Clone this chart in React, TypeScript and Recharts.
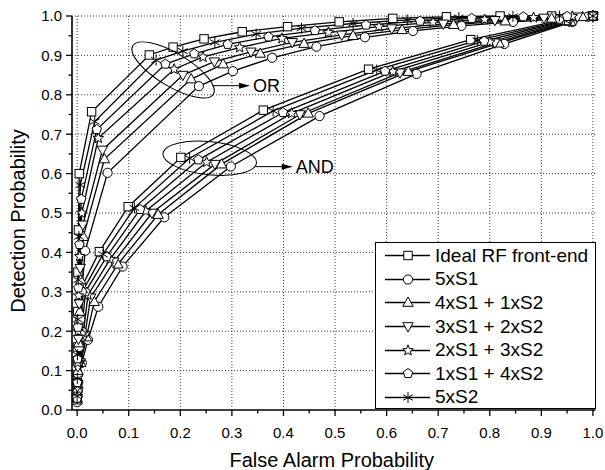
import React from 'react'
import { LineChart, Line, XAxis, YAxis, ReferenceLine, ReferenceDot, Label } from 'recharts'

const FONT = '"Liberation Sans", Arial, Helvetica, sans-serif'

// legend order
const seriesNames = ['Ideal RF front-end', '5xS1', '4xS1 + 1xS2', '3xS1 + 2xS2', '2xS1 + 3xS2', '1xS1 + 4xS2', '5xS2']
const seriesMarkers = ['square', 'circle', 'triUp', 'triDown', 'star', 'pentagon', 'asterisk']

const majorTicks = [0, 0.1, 0.2, 0.3, 0.4, 0.5, 0.6, 0.7, 0.8, 0.9, 1.0]
const minorTicks = [0.05, 0.15, 0.25, 0.35, 0.45, 0.55, 0.65, 0.75, 0.85, 0.95]

// OR fusion rule (false alarm / detection)
const orIdealPfa = [0, 0, 0.0005, 0.001, 0.0015, 0.0025, 0.004, 0.028, 0.14, 0.186, 0.246, 0.32, 0.408, 0.508, 0.612, 0.716, 0.82, 0.92, 1.0]
const orIdealPd = [0.04, 0.09, 0.16, 0.25, 0.35, 0.457, 0.6, 0.757, 0.901, 0.921, 0.942, 0.96, 0.973, 0.985, 0.994, 0.998, 1.0, 1.0, 1.0]
const or5S1Pfa = [0, 0.001, 0.002, 0.004, 0.006, 0.009, 0.0155, 0.059, 0.236, 0.302, 0.378, 0.464, 0.558, 0.651, 0.745, 0.845, 0.935, 0.99, 1.0]
const or5S1Pd = [0.02, 0.05, 0.09, 0.16, 0.23, 0.3, 0.404, 0.602, 0.822, 0.86, 0.894, 0.922, 0.946, 0.962, 0.975, 0.985, 0.993, 0.998, 1.0]
const or41Pfa = [0, 0.0008, 0.0015, 0.003, 0.005, 0.007, 0.012, 0.053, 0.221, 0.283, 0.355, 0.44, 0.535, 0.63, 0.73, 0.83, 0.92, 0.98, 1.0]
const or41Pd = [0.025, 0.055, 0.1, 0.17, 0.25, 0.33, 0.44, 0.637, 0.84, 0.878, 0.905, 0.93, 0.95, 0.965, 0.978, 0.987, 0.994, 0.998, 1.0]
const or32Pfa = [0, 0.0006, 0.0012, 0.0025, 0.004, 0.006, 0.011, 0.049, 0.205, 0.266, 0.337, 0.417, 0.513, 0.61, 0.71, 0.81, 0.905, 0.97, 1.0]
const or32Pd = [0.03, 0.06, 0.11, 0.18, 0.27, 0.36, 0.47, 0.66, 0.85, 0.884, 0.909, 0.933, 0.952, 0.968, 0.98, 0.989, 0.995, 0.998, 1.0]
const or23Pfa = [0, 0.0005, 0.001, 0.002, 0.003, 0.005, 0.009, 0.041, 0.188, 0.244, 0.315, 0.397, 0.487, 0.585, 0.69, 0.79, 0.885, 0.96, 1.0]
const or23Pd = [0.03, 0.065, 0.12, 0.2, 0.29, 0.39, 0.5, 0.69, 0.865, 0.896, 0.92, 0.943, 0.958, 0.973, 0.984, 0.991, 0.996, 0.999, 1.0]
const or14Pfa = [0, 0.0004, 0.0008, 0.0015, 0.0025, 0.0045, 0.008, 0.038, 0.171, 0.227, 0.292, 0.371, 0.461, 0.56, 0.665, 0.765, 0.865, 0.95, 1.0]
const or14Pd = [0.03, 0.07, 0.13, 0.21, 0.31, 0.42, 0.535, 0.712, 0.878, 0.904, 0.928, 0.947, 0.963, 0.977, 0.987, 0.994, 0.998, 0.999, 1.0]
const or5S2Pfa = [0, 0.0003, 0.0006, 0.0012, 0.002, 0.0035, 0.006, 0.034, 0.153, 0.205, 0.267, 0.347, 0.435, 0.535, 0.64, 0.74, 0.845, 0.935, 1.0]
const or5S2Pd = [0.035, 0.08, 0.14, 0.23, 0.33, 0.44, 0.571, 0.732, 0.888, 0.911, 0.933, 0.954, 0.969, 0.981, 0.99, 0.996, 0.999, 1.0, 1.0]

// AND fusion rule
const andIdealPfa = [0, 0.0003, 0.001, 0.003, 0.008, 0.043, 0.099, 0.201, 0.361, 0.565, 0.763, 0.94, 1.0]
const andIdealPd = [0.03, 0.07, 0.125, 0.21, 0.31, 0.402, 0.516, 0.641, 0.761, 0.865, 0.94, 0.99, 1.0]
const and5S1Pfa = [0, 0.002, 0.009, 0.021, 0.041, 0.088, 0.169, 0.298, 0.47, 0.658, 0.828, 0.96, 1.0]
const and5S1Pd = [0.03, 0.07, 0.12, 0.178, 0.262, 0.364, 0.489, 0.618, 0.746, 0.853, 0.929, 0.985, 1.0]
const and41Pfa = [0, 0.0016, 0.007, 0.018, 0.033, 0.079, 0.157, 0.28, 0.448, 0.642, 0.818, 0.957, 1.0]
const and41Pd = [0.03, 0.065, 0.12, 0.185, 0.275, 0.37, 0.496, 0.624, 0.753, 0.859, 0.931, 0.986, 1.0]
const and32Pfa = [0, 0.0013, 0.006, 0.015, 0.026, 0.071, 0.145, 0.267, 0.432, 0.626, 0.81, 0.954, 1.0]
const and32Pd = [0.03, 0.065, 0.12, 0.19, 0.285, 0.376, 0.5, 0.624, 0.75, 0.856, 0.932, 0.986, 1.0]
const and23Pfa = [0, 0.001, 0.004, 0.012, 0.021, 0.064, 0.133, 0.251, 0.416, 0.612, 0.8, 0.951, 1.0]
const and23Pd = [0.03, 0.065, 0.12, 0.195, 0.292, 0.383, 0.505, 0.629, 0.753, 0.859, 0.934, 0.987, 1.0]
const and14Pfa = [0, 0.0008, 0.003, 0.009, 0.016, 0.057, 0.122, 0.235, 0.399, 0.597, 0.789, 0.948, 1.0]
const and14Pd = [0.03, 0.065, 0.12, 0.2, 0.3, 0.389, 0.509, 0.635, 0.755, 0.86, 0.936, 0.988, 1.0]
const and5S2Pfa = [0, 0.0005, 0.002, 0.006, 0.012, 0.05, 0.111, 0.218, 0.38, 0.581, 0.776, 0.945, 1.0]
const and5S2Pd = [0.03, 0.07, 0.12, 0.205, 0.305, 0.395, 0.513, 0.639, 0.759, 0.863, 0.938, 0.989, 1.0]

// annotation anchors (data coords)
const orNote = { x: 0.186, y: 0.863, text: 'OR' }
const andNote = { x: 0.257, y: 0.639, text: 'AND' }

const zip = (xs: number[], ys: number[]) => xs.map((x, i) => ({ x, y: ys[i] }))

const orSets = [
  [orIdealPfa, orIdealPd], [or5S1Pfa, or5S1Pd], [or41Pfa, or41Pd], [or32Pfa, or32Pd],
  [or23Pfa, or23Pd], [or14Pfa, or14Pd], [or5S2Pfa, or5S2Pd],
]
const andSets = [
  [andIdealPfa, andIdealPd], [and5S1Pfa, and5S1Pd], [and41Pfa, and41Pd], [and32Pfa, and32Pd],
  [and23Pfa, and23Pd], [and14Pfa, and14Pd], [and5S2Pfa, and5S2Pd],
]

const allTicks = [...majorTicks, ...minorTicks].sort((a, b) => a - b)
const isMajor = (v: number) => Math.abs(v * 10 - Math.round(v * 10)) < 1e-6

const polyPts = (cx: number, cy: number, n: number, r: number, r2?: number) => {
  const pts: string[] = []
  const count = r2 ? n * 2 : n
  for (let i = 0; i < count; i++) {
    const a = -Math.PI / 2 + (i * 2 * Math.PI) / count
    const rr = r2 && i % 2 === 1 ? r2 : r
    pts.push(`${cx + rr * Math.cos(a)},${cy + rr * Math.sin(a)}`)
  }
  return pts.join(' ')
}

function Marker({ kind, cx, cy }: { kind: string; cx: number; cy: number }) {
  const s = { fill: '#fff', stroke: '#000', strokeWidth: 1 }
  switch (kind) {
    case 'square':
      return <rect x={cx - 4.2} y={cy - 4.2} width={8.4} height={8.4} {...s} />
    case 'circle':
      return <circle cx={cx} cy={cy} r={4.6} {...s} />
    case 'triUp':
      return <polygon points={`${cx},${cy - 5.5} ${cx - 5.2},${cy + 3.8} ${cx + 5.2},${cy + 3.8}`} {...s} />
    case 'triDown':
      return <polygon points={`${cx},${cy + 5.5} ${cx - 5.2},${cy - 3.8} ${cx + 5.2},${cy - 3.8}`} {...s} />
    case 'star':
      return <polygon points={polyPts(cx, cy, 5, 5.6, 2.4)} {...s} />
    case 'pentagon':
      return <polygon points={polyPts(cx, cy, 5, 5)} {...s} />
    default:
      return (
        <g stroke="#000" strokeWidth={1}>
          <line x1={cx} y1={cy - 5.5} x2={cx} y2={cy + 5.5} />
          <line x1={cx - 4.8} y1={cy - 2.75} x2={cx + 4.8} y2={cy + 2.75} />
          <line x1={cx - 4.8} y1={cy + 2.75} x2={cx + 4.8} y2={cy - 2.75} />
        </g>
      )
  }
}

const tickText = { fontSize: 15, fontFamily: FONT, fill: '#000' }

const BottomTick = (p: any) => {
  const v = p.payload.value
  const major = isMajor(v)
  return (
    <g>
      <line x1={p.x} x2={p.x} y1={p.y} y2={p.y + (major ? 6 : 3.5)} stroke="#000" strokeWidth={1.3} />
      {major && <text x={p.x} y={p.y + 28} textAnchor="middle" {...tickText}>{v.toFixed(1)}</text>}
    </g>
  )
}
const TopTick = (p: any) => {
  const major = isMajor(p.payload.value)
  return <line x1={p.x} x2={p.x} y1={p.y} y2={p.y + (major ? 5 : 3.5)} stroke="#000" strokeWidth={1.3} />
}
const LeftTick = (p: any) => {
  const v = p.payload.value
  const major = isMajor(v)
  return (
    <g>
      <line x1={p.x} x2={p.x - (major ? 6 : 3.5)} y1={p.y} y2={p.y} stroke="#000" strokeWidth={1.3} />
      {major && <text x={p.x - 10} y={p.y} dy="0.36em" textAnchor="end" {...tickText}>{v.toFixed(1)}</text>}
    </g>
  )
}
const RightTick = (p: any) => {
  const major = isMajor(p.payload.value)
  return <line x1={p.x} x2={p.x - (major ? 6 : 3.5)} y1={p.y} y2={p.y} stroke="#000" strokeWidth={1.3} />
}

const Note = ({ cx, cy, text, rx, ry, rot, ax0, ax1, ay }: any) => (
  <g>
    <ellipse cx={cx} cy={cy} rx={rx} ry={ry} fill="none" stroke="#000" strokeWidth={1} transform={`rotate(${rot} ${cx} ${cy})`} />
    <line x1={cx + ax0} y1={cy + ay} x2={cx + ax1 - 8} y2={cy + ay} stroke="#000" strokeWidth={1} />
    <polygon points={`${cx + ax1},${cy + ay} ${cx + ax1 - 11},${cy + ay - 3} ${cx + ax1 - 11},${cy + ay + 3}`} fill="#000" />
    <text x={cx + ax1 + 3} y={cy + ay} dy="0.36em" fontSize={18} fontFamily={FONT} fill="#000">{text}</text>
  </g>
)

const axisLine = { stroke: '#000', strokeWidth: 1.6 }
const grid = { stroke: '#222', strokeWidth: 0.9, strokeDasharray: '1 2' }

export default function App() {
  return (
    <div style={{ position: 'absolute', left: 0, top: 0, width: 605, height: 470, background: '#fff', fontFamily: FONT }}>
      <LineChart width={605} height={470} margin={{ top: 16, right: 9.5, bottom: 30, left: 0 }}>
        <XAxis
          type="number" dataKey="x" domain={[-0.01, 1.005]} ticks={allTicks} interval={0}
          tickSize={0} tickMargin={0} tickLine={false} tick={(p: any) => <BottomTick {...p} />}
          axisLine={axisLine} height={30}
        >
          <Label
            content={(p: any) => {
              const vb = p.viewBox || { x: 72, y: 410, width: 523, height: 30 }
              return (
                <text x={vb.x + vb.width / 2 - 2} y={vb.y + 57} textAnchor="middle" fontSize={20} fontFamily={FONT} fill="#000">
                  False Alarm Probability
                </text>
              )
            }}
          />
        </XAxis>
        <XAxis
          xAxisId="top" orientation="top" type="number" domain={[-0.01, 1.005]} allowDataOverflow
          ticks={allTicks} interval={0} tickSize={0} tickMargin={0} tickLine={false}
          tick={(p: any) => <TopTick {...p} />} axisLine={axisLine} height={0}
        />
        <YAxis
          type="number" domain={[0, 1]} ticks={allTicks} interval={0} tickSize={0} tickMargin={0}
          tickLine={false} tick={(p: any) => <LeftTick {...p} />} axisLine={axisLine} width={72}
        >
          <Label
            content={(p: any) => {
              const vb = p.viewBox || { x: 0, y: 16, width: 72, height: 394 }
              const cx = vb.x + 25
              const cy = vb.y + vb.height / 2 + 8
              return (
                <text x={cx} y={cy} transform={`rotate(-90 ${cx} ${cy})`} textAnchor="middle" fontSize={20} fontFamily={FONT} fill="#000">
                  Detection Probability
                </text>
              )
            }}
          />
        </YAxis>
        <YAxis
          yAxisId="right" orientation="right" type="number" domain={[0, 1]} allowDataOverflow
          ticks={allTicks} interval={0} tickSize={0} tickMargin={0} tickLine={false}
          tick={(p: any) => <RightTick {...p} />} axisLine={axisLine} width={0}
        />

        {majorTicks.map((v) => (
          <ReferenceLine key={`gx${v}`} x={v} {...grid} />
        ))}
        {majorTicks.slice(1).map((v) => (
          <ReferenceLine key={`gy${v}`} y={v} {...grid} />
        ))}

        {andSets.map(([xs, ys], i) => (
          <Line
            key={`and${i}`} data={zip(xs, ys)} dataKey="y" type="linear" stroke="#000" strokeWidth={1.3}
            isAnimationActive={false} activeDot={false} legendType="none"
            dot={(p: any) => <Marker key={`and${i}-${p.index}`} kind={seriesMarkers[i]} cx={p.cx} cy={p.cy} />}
          />
        ))}
        {orSets.map(([xs, ys], i) => (
          <Line
            key={`or${i}`} data={zip(xs, ys)} dataKey="y" type="linear" stroke="#000" strokeWidth={1.3}
            isAnimationActive={false} activeDot={false} legendType="none"
            dot={(p: any) => <Marker key={`or${i}-${p.index}`} kind={seriesMarkers[i]} cx={p.cx} cy={p.cy} />}
          />
        ))}

        <ReferenceDot
          x={orNote.x} y={orNote.y} r={0}
          shape={(p: any) => <Note cx={p.cx} cy={p.cy} text={orNote.text} rx={47} ry={16.5} rot={31} ax0={39} ax1={77} ay={15.7} />}
        />
        <ReferenceDot
          x={andNote.x} y={andNote.y} r={0}
          shape={(p: any) => <Note cx={p.cx} cy={p.cy} text={andNote.text} rx={47} ry={16.5} rot={6} ax0={46} ax1={83} ay={8.4} />}
        />
      </LineChart>

      <div
        style={{
          position: 'absolute', left: 375, top: 242, width: 221, height: 167, boxSizing: 'border-box',
          border: '1.5px solid #000', background: '#fff', paddingTop: 1,
        }}
      >
        {seriesNames.map((name, i) => (
          <div key={name} style={{ display: 'flex', alignItems: 'center', height: 23.6 }}>
            <svg width={59} height={23} style={{ flex: 'none' }}>
              <line x1={9} x2={54} y1={11.5} y2={11.5} stroke="#000" strokeWidth={1.3} />
              <Marker kind={seriesMarkers[i]} cx={32} cy={11.5} />
            </svg>
            <span style={{ fontSize: 19, fontFamily: FONT, color: '#000', whiteSpace: 'nowrap' }}>{name}</span>
          </div>
        ))}
      </div>
    </div>
  )
}
